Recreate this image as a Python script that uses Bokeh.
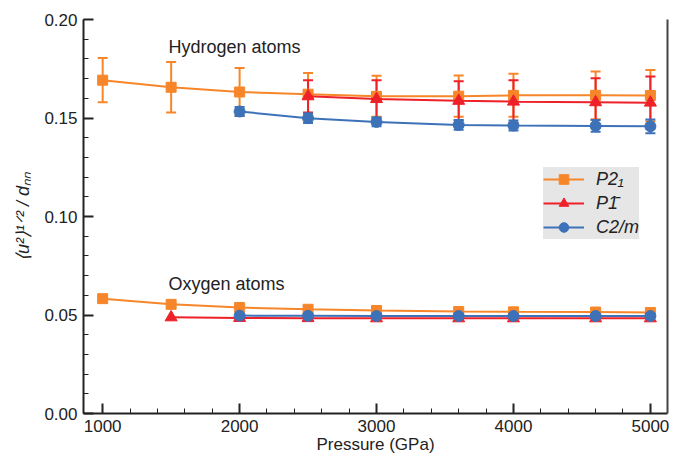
from bokeh.plotting import figure
from bokeh.models import (ColumnDataSource, Whisker, TeeHead, Legend, LegendItem, FixedTicker,
                          LinearAxis, SingleIntervalTicker, NumeralTickFormatter, Range1d, Label)
from bokeh.embed import file_html
from bokeh.resources import INLINE

# ---- data ----
p_p21 = [1000, 1500, 2000, 2500, 3000, 3600, 4000, 4600, 5000]
h_p21 = [0.1692, 0.1656, 0.1632, 0.1621, 0.1610, 0.1611, 0.1615, 0.1615, 0.1614]
h_p21_err = [0.0112, 0.0128, 0.0122, 0.0107, 0.0104, 0.0105, 0.0109, 0.0121, 0.0130]
o_p21 = [0.0583, 0.0554, 0.0538, 0.0529, 0.0523, 0.0518, 0.0516, 0.0515, 0.0513]

p_p1_h = [2500, 3000, 3600, 4000, 4600, 5000]
h_p1 = [0.1610, 0.1596, 0.1587, 0.1583, 0.1580, 0.1578]
h_p1_err = [0.0082, 0.0096, 0.0100, 0.0108, 0.0122, 0.0133]
p_p1_o = [1500, 2000, 2500, 3000, 3600, 4000, 4600, 5000]
o_p1 = [0.0488, 0.0485, 0.0484, 0.0483, 0.0483, 0.0483, 0.0483, 0.0483]

p_c2m = [2000, 2500, 3000, 3600, 4000, 4600, 5000]
h_c2m = [0.1533, 0.1499, 0.1480, 0.1465, 0.1462, 0.1460, 0.1458]
h_c2m_err = [0.0023, 0.0024, 0.0022, 0.0025, 0.0025, 0.0030, 0.0035]
o_c2m = [0.0497, 0.0496, 0.0495, 0.0495, 0.0495, 0.0495, 0.0495]

labels = ["P2\u2081", "P1\u0304", "C2/m"]
x_title = "Pressure (GPa)"
y_title = "\u27e8u\u00b2\u27e9\u00b9\u141f\u00b2 / d\u2099\u2099"
colors = ["#f7862a", "#ee2028", "#3d72b8"]
FONT = "Liberation Sans"

p = figure(width=672, height=457, output_backend="svg", toolbar_location=None,
           x_range=Range1d(860, 5125), y_range=Range1d(0, 0.2),
           min_border_left=83, min_border_right=5, min_border_top=19, min_border_bottom=44)
p.grid.visible = False
p.outline_line_color = None
p.background_fill_color = "white"


def style_axis(ax):
    ax.axis_line_width = 2
    ax.axis_line_color = "#222222"
    ax.major_tick_in = 10
    ax.major_tick_out = 0
    ax.minor_tick_in = 5
    ax.minor_tick_out = 0
    ax.major_tick_line_width = 2
    ax.minor_tick_line_width = 1
    ax.major_tick_line_color = "#222222"
    ax.minor_tick_line_color = "#222222"
    ax.major_label_text_font = FONT
    ax.major_label_text_font_size = "17px"
    ax.major_label_text_color = "#222222"
    ax.axis_label_text_font = FONT
    ax.axis_label_text_font_size = "17px"
    ax.axis_label_text_font_style = "normal"
    ax.axis_label_text_color = "#222222"


xa = p.xaxis[0]
xa.ticker = SingleIntervalTicker(interval=1000, num_minor_ticks=5)
xa.axis_label = x_title
style_axis(xa)
xa.major_label_standoff = 6
xa.axis_label_standoff = 0

ya = p.yaxis[0]
ya.ticker = SingleIntervalTicker(interval=0.05, num_minor_ticks=5)
ya.formatter = NumeralTickFormatter(format="0.00")
ya.axis_label = y_title
style_axis(ya)
ya.axis_label_text_font_style = "italic"
ya.axis_label_text_font_size = "18px"
ya.major_label_standoff = 6
ya.axis_label_standoff = 8

ra = LinearAxis(ticker=FixedTicker(ticks=[]), major_tick_line_color=None,
                minor_tick_line_color=None, axis_line_width=2, axis_line_color="#444444")
p.add_layout(ra, "right")

items = []
series = [
    (p_p21, h_p21, h_p21_err, p_p21, o_p21, "square", 10),
    (p_p1_h, h_p1, h_p1_err, p_p1_o, o_p1, "triangle", 12),
    (p_c2m, h_c2m, h_c2m_err, p_c2m, o_c2m, "circle", 11),
]
for i, (px, hy, he, pox, oy, mk, sz) in enumerate(series):
    c = colors[i]
    src = ColumnDataSource(dict(x=px, y=hy,
                                up=[a + b for a, b in zip(hy, he)],
                                lo=[a - b for a, b in zip(hy, he)]))
    w = Whisker(source=src, base="x", upper="up", lower="lo", line_color=c, line_width=2,
                upper_head=TeeHead(size=10, line_color=c, line_width=2),
                lower_head=TeeHead(size=10, line_color=c, line_width=2))
    p.add_layout(w)
    l1 = p.line(px, hy, line_color=c, line_width=2)
    s1 = p.scatter(px, hy, marker=mk, size=sz, fill_color=c, line_color=c)
    p.line(pox, oy, line_color=c, line_width=2)
    p.scatter(pox, oy, marker=mk, size=sz, fill_color=c, line_color=c)
    items.append(LegendItem(label=labels[i], renderers=[l1, s1]))

legend = Legend(items=items, location=(460, 174), background_fill_color="#e6e6e6",
                background_fill_alpha=1, border_line_color=None,
                label_text_font=FONT, label_text_font_style="italic",
                label_text_font_size="18px", label_text_color="#222222",
                glyph_width=41, glyph_height=24, label_height=24, spacing=0,
                padding=4, margin=0, label_standoff=12)
p.add_layout(legend)

p.add_layout(Label(x=1480, y=0.186, text="Hydrogen atoms", text_font=FONT,
                   text_font_size="18px", text_color="#222222", text_baseline="middle"))
p.add_layout(Label(x=1480, y=0.0655, text="Oxygen atoms", text_font=FONT,
                   text_font_size="18px", text_color="#222222", text_baseline="middle"))

open("out.html", "w").write(file_html(p, INLINE))
